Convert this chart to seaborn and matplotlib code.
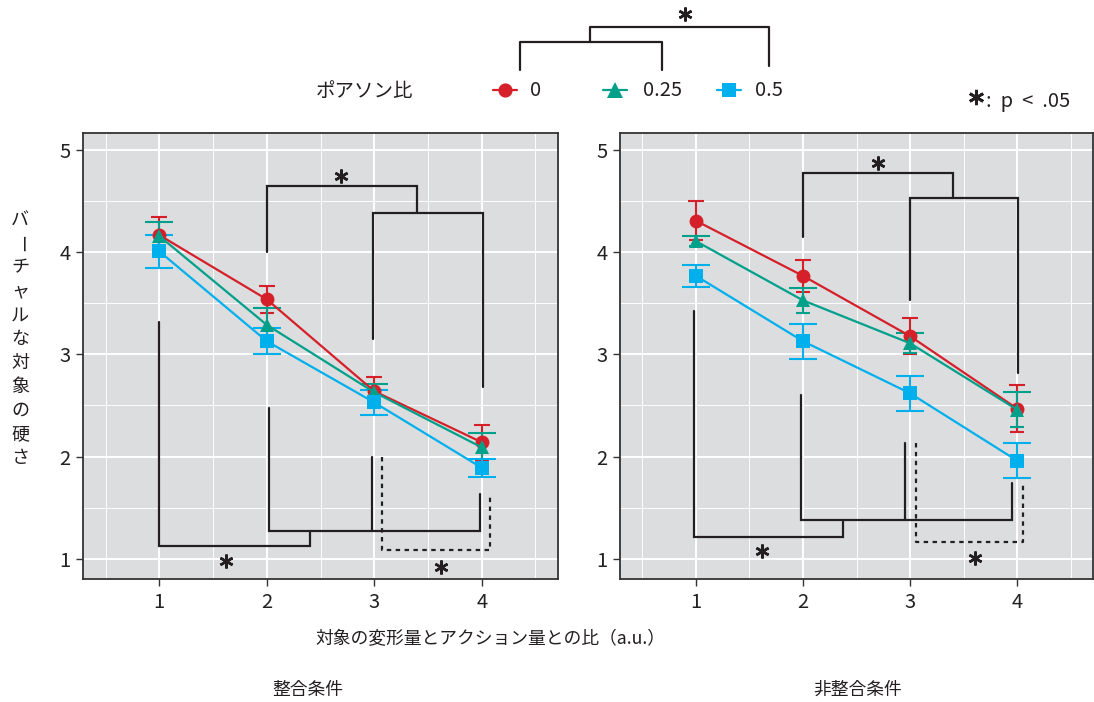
import numpy as np
import pandas as pd
import matplotlib.pyplot as plt
import seaborn as sns
from matplotlib import font_manager

# -----------------------------
# DATA
# -----------------------------
ratio_levels = [1, 2, 3, 4]
poisson_labels = ["0", "0.25", "0.5"]
panel_titles = ["整合条件", "非整合条件"]

# 整合条件 (left)
cong_p0 = [4.17, 3.54, 2.64, 2.14]
cong_p025 = [4.16, 3.29, 2.63, 2.09]
cong_p05 = [4.01, 3.13, 2.53, 1.89]
cong_p0_se = [0.18, 0.135, 0.14, 0.17]
cong_p025_se = [0.14, 0.165, 0.08, 0.14]
cong_p05_se = [0.16, 0.13, 0.12, 0.09]

# 非整合条件 (right)
incong_p0 = [4.31, 3.77, 3.18, 2.47]
incong_p025 = [4.11, 3.53, 3.11, 2.46]
incong_p05 = [3.77, 3.13, 2.62, 1.96]
incong_p0_se = [0.19, 0.16, 0.18, 0.23]
incong_p025_se = [0.05, 0.12, 0.10, 0.17]
incong_p05_se = [0.11, 0.17, 0.17, 0.17]

y_label = "バーチャルな対象の硬さ"
x_label = "対象の変形量とアクション量との比（a.u.）"
legend_title = "ポアソン比"
sig_note = ":  p  <  .05"

# -----------------------------
# STYLE
# -----------------------------
sns.set_theme(style="darkgrid")
fams = ["Liberation Sans Narrow", "Noto Sans CJK JP", "DejaVu Sans"]
installed = {f.name for f in font_manager.fontManager.ttflist}
plt.rcParams["font.family"] = [f for f in fams if f in installed]

palette = {"0": "#D5202A", "0.25": "#00A08B", "0.5": "#00B0EC"}
markers = {"0": "o", "0.25": "^", "0.5": "s"}
msizes = {"0": 10.2, "0.25": 11, "0.5": 9.8}
panel_bg = "#DCDDDF"
ink = "#231F20"
star = (6, 2, 0)   # six-armed asterisk marker

rows = []
for panel, series in zip(panel_titles, [
        [(cong_p0, cong_p0_se), (cong_p025, cong_p025_se), (cong_p05, cong_p05_se)],
        [(incong_p0, incong_p0_se), (incong_p025, incong_p025_se), (incong_p05, incong_p05_se)]]):
    for lab, (vals, ses) in zip(poisson_labels, series):
        for r, v, s in zip(ratio_levels, vals, ses):
            rows.append({"panel": panel, "ratio": r, "poisson": lab, "hardness": v, "se": s})
df = pd.DataFrame(rows)

# significance brackets, in data coords of each panel
brackets = {
    "整合条件": {
        "solid": [
            [(2.0, 4.0), (2.0, 4.65), (3.40, 4.65), (3.40, 4.385)],
            [(2.99, 3.15), (2.99, 4.385), (4.01, 4.385), (4.01, 2.68)],
            [(1.0, 3.32), (1.0, 1.12), (2.40, 1.12), (2.40, 1.27)],
            [(2.02, 2.48), (2.02, 1.27), (3.98, 1.27), (3.98, 1.63)],
            [(2.98, 2.0), (2.98, 1.27)],
        ],
        "dotted": [[(3.07, 2.0), (3.07, 1.08), (4.08, 1.08), (4.08, 1.62)]],
        "stars": [(2.69, 4.75), (1.62, 0.98), (3.62, 0.92)],
    },
    "非整合条件": {
        "solid": [
            [(2.0, 4.15), (2.0, 4.78), (3.40, 4.78), (3.40, 4.53)],
            [(3.0, 3.53), (3.0, 4.53), (4.01, 4.53), (4.01, 2.82)],
            [(0.98, 3.43), (0.98, 1.21), (2.37, 1.21), (2.37, 1.38)],
            [(1.98, 2.60), (1.98, 1.38), (3.95, 1.38), (3.95, 1.74)],
            [(2.95, 2.13), (2.95, 1.38)],
        ],
        "dotted": [[(3.06, 2.13), (3.06, 1.16), (4.06, 1.16), (4.06, 1.75)]],
        "stars": [(2.70, 4.88), (1.62, 1.07), (3.61, 1.01)],
    },
}

# -----------------------------
# FIGURE
# -----------------------------
W, H = 1094, 702
fig = plt.figure(figsize=(W / 100, H / 100), dpi=100)
axes = [fig.add_axes([83 / W, 1 - 579 / H, 475 / W, 446 / H]),
        fig.add_axes([620 / W, 1 - 579 / H, 473 / W, 446 / H])]

for ax, panel in zip(axes, panel_titles):
    sub = df[df["panel"] == panel]
    ax.set_facecolor(panel_bg)
    for lab in poisson_labels:
        s = sub[sub["poisson"] == lab]
        ax.errorbar(s["ratio"], s["hardness"], yerr=s["se"], fmt="none",
                    ecolor=palette[lab], elinewidth=1.5, capsize=10, capthick=1.5, zorder=3)
    sns.lineplot(data=sub, x="ratio", y="hardness", hue="poisson", style="poisson",
                 hue_order=poisson_labels, palette=palette, markers=markers, dashes=False,
                 lw=1.6, markersize=10, markeredgewidth=0, legend=False, ax=ax, zorder=4)
    for line, lab in zip(ax.lines, poisson_labels):
        line.set_markersize(msizes[lab])

    for path in brackets[panel]["solid"]:
        xs, ys = zip(*path)
        ax.plot(xs, ys, color=ink, lw=1.6, solid_joinstyle="miter", zorder=5)
    for path in brackets[panel]["dotted"]:
        xs, ys = zip(*path)
        ax.plot(xs, ys, color=ink, lw=1.6, ls=(0, (2, 2)), zorder=5)
    for sx, sy in brackets[panel]["stars"]:
        ax.plot(sx, sy, marker=star, ms=10, mew=1.8, color=ink, zorder=6)

    ax.set_xlim(0.29, 4.71)
    ax.set_ylim(0.8, 5.17)
    ax.set_xticks(ratio_levels)
    ax.set_yticks([1, 2, 3, 4, 5])
    ax.set_xticks([0.5, 1.5, 2.5, 3.5, 4.5], minor=True)
    ax.set_yticks([1.5, 2.5, 3.5, 4.5], minor=True)
    ax.grid(which="major", color="white", lw=1.4)
    ax.grid(which="minor", color="white", lw=0.7)
    ax.set_xlabel("")
    ax.set_ylabel("")
    ax.tick_params(which="major", length=5, width=1, color="#333333",
                   labelsize=14.5, labelcolor="#222222", pad=4, bottom=True, left=True)
    ax.tick_params(which="minor", length=0)
    for sp in ax.spines.values():
        sp.set_visible(True)
        sp.set_color("#333333")
        sp.set_linewidth(1.3)

# overlay in pixel coordinates for texts and legend
ov = fig.add_axes([0, 0, 1, 1], zorder=10)
ov.set_xlim(0, W)
ov.set_ylim(H, 0)
ov.axis("off")

# legend
ov.text(365, 91, legend_title, ha="center", va="center", fontsize=14, color=ink)
key_x = {"0": 505, "0.25": 615, "0.5": 729}
lab_x = {"0": 530, "0.25": 643, "0.5": 755}
for lab in poisson_labels:
    kx = key_x[lab]
    ov.plot([kx - 12, kx + 12], [90, 90], color=palette[lab], lw=1.6)
    ov.plot([kx], [90], marker=markers[lab], color=palette[lab], markersize=msizes[lab], mew=0)
    ov.text(lab_x[lab], 90, lab, ha="left", va="center", fontsize=14.5, color=ink)

# bracket between legend keys
ov.plot([520, 520, 662, 662], [70, 42, 42, 70], color=ink, lw=1.6)
ov.plot([590, 590, 769, 769], [42, 27, 27, 66], color=ink, lw=1.6)
ov.plot(685, 14, marker=star, ms=10, mew=1.8, color=ink)

ov.plot(976, 97, marker=star, ms=11, mew=2.0, color=ink)
ov.text(986, 102, sig_note, ha="left", va="center", fontsize=14.5, color=ink)

# y label, written vertically
for i, ch in enumerate(y_label):
    ov.text(20, 220 + i * 23.8, ch, ha="center", va="center", fontsize=13, color=ink,
            rotation=-90 if ch == "ー" else 0)

ov.text(490, 639, x_label, ha="center", va="center", fontsize=12.8, color=ink)
ov.text(308, 690, panel_titles[0], ha="center", va="center", fontsize=12.8, color=ink)
ov.text(858, 690, panel_titles[1], ha="center", va="center", fontsize=12.8, color=ink)

fig.savefig("out.png", dpi=100)
